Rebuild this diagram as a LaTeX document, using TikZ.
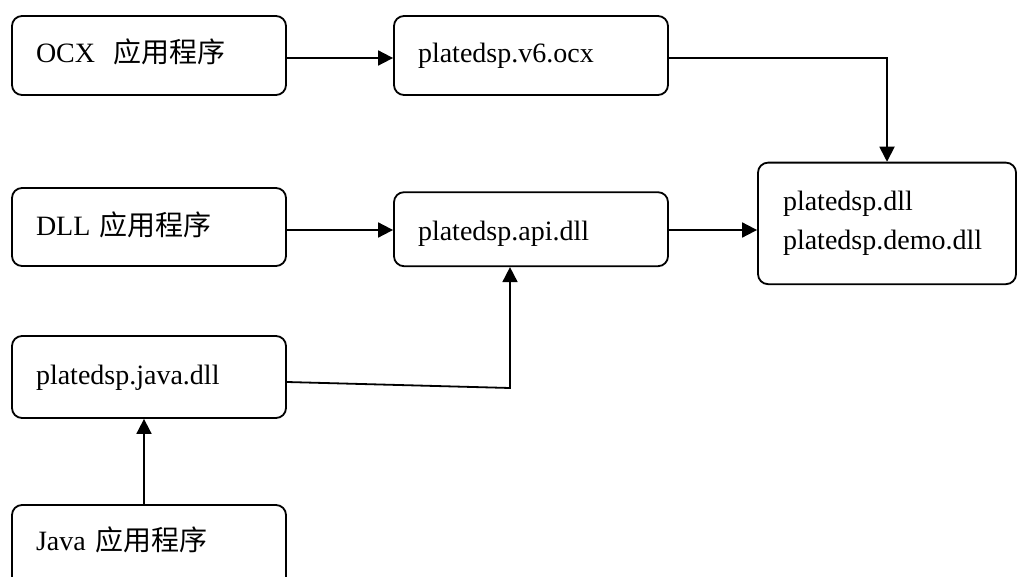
\documentclass[tikz,border=0pt]{standalone}
\usepackage{fontspec}
\setmainfont{Liberation Serif}
\newfontfamily\cjk{Noto Sans CJK SC}
\usetikzlibrary{arrows.meta}
\begin{document}
\begin{tikzpicture}[x=1pt,y=1pt,
  box/.style={draw, line width=1.8pt, rounded corners=10pt, align=left, inner xsep=24pt, inner ysep=0pt,
     font=\fontsize{28}{39}\selectfont, anchor=center, text height=24pt},
  arr/.style={line width=1.8pt, -{Triangle[length=15pt,width=15pt]}}]
\useasboundingbox (0,0) rectangle (1019,-577);
\begin{scope}
\clip (0,0) rectangle (1019,-577);
\node[box, text width=226pt, minimum height=79pt, text depth=10pt] (ocx) at (149,-55.5) {OCX\ \ {\cjk 应用程序}};
\node[box, text width=226pt, minimum height=79pt, text depth=10pt] (v6) at (531,-55.5) {platedsp.v6.ocx};
\node[box, text width=226pt, minimum height=78pt, text depth=6.4pt] (dllapp) at (149,-227) {DLL {\cjk 应用程序}};
\node[box, text width=226pt, minimum height=74pt, text depth=2pt] (api) at (531,-229.2) {platedsp.api.dll};
\node[box, inner xsep=25pt, text width=208pt, minimum height=121.5pt, text height=21pt, text depth=46.8pt] (dll) at (887,-223.4) {platedsp.dll\\platedsp.demo.dll};
\node[box, text width=226pt, minimum height=82pt, text depth=9.6pt] (javadll) at (149,-377) {platedsp.java.dll};
\node[box, text width=226pt, minimum height=95pt, text depth=27.4pt] (javaapp) at (149,-552.5) {Java {\cjk 应用程序}};
\end{scope}
\coordinate (bend) at (510,-388);
\draw[arr] ([yshift=-2.5pt]ocx.east) -- ([yshift=-2.5pt]v6.west);
\draw[arr] ([yshift=-2.5pt]v6.east) -| (dll.north);
\draw[arr] ([yshift=-3pt]dllapp.east) -- ([yshift=-0.8pt]api.west);
\draw[arr] ([yshift=-0.8pt]api.east) -- ([yshift=-6.6pt]dll.west);
\draw[arr] ([yshift=-5pt]javadll.east) -- (bend) -- (api.south -| bend);
\draw[arr] ([xshift=-5pt]javaapp.north) -- ([xshift=-5pt]javadll.south);
\end{tikzpicture}
\end{document}
